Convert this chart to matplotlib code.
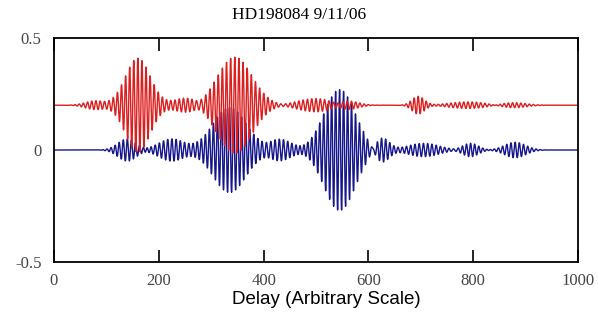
import numpy as np
import matplotlib
matplotlib.use("Agg")
import matplotlib.pyplot as plt

# wave packets: centre, amplitude, width (sigma), fringe period
red_offset = 0.2
red_centers = [80, 160, 255, 345, 500, 560, 695, 790, 875]
red_amps = [0.02, 0.21, 0.035, 0.215, 0.03, 0.02, 0.04, 0.015, 0.012]
red_widths = [20, 24, 25, 33, 35, 20, 12, 35, 25]
red_periods = [8.0, 7.8, 8.0, 7.9, 8.2, 8.0, 7.7, 8.1, 8.0]

blue_offset = 0.0
blue_centers = [140, 225, 335, 430, 545, 625, 705, 795, 880]
blue_amps = [0.05, 0.05, 0.19, 0.05, 0.27, 0.06, 0.03, 0.03, 0.035]
blue_widths = [18, 25, 32, 22, 30, 14, 30, 15, 20]
blue_periods = [7.8, 8.0, 7.7, 8.0, 7.6, 7.9, 8.1, 7.8, 8.0]

x_ticks = [0, 200, 400, 600, 800, 1000]
y_ticks = [-0.5, 0, 0.5]
y_tick_labels = ["-0.5", "0", "0.5"]

delay = np.linspace(0, 1000, 6000)


def fringes(centers, amps, widths, periods, offset):
    y = np.full_like(delay, offset)
    for c, a, w, p in zip(centers, amps, widths, periods):
        env = np.exp(-0.5 * ((delay - c) / w) ** 2)
        y += a * env * np.cos(2 * np.pi * (delay - c) / p)
    return y


red = fringes(red_centers, red_amps, red_widths, red_periods, red_offset)
blue = fringes(blue_centers, blue_amps, blue_widths, blue_periods, blue_offset)

fig = plt.figure(figsize=(5.98, 3.22), dpi=100)
ax = fig.add_axes([0.0903, 0.1863, 0.8763, 0.6957])

ax.plot(delay, blue, color="#16168c", lw=1.0)
ax.plot(delay, red, color="#dc1e1e", lw=1.0)

ax.set_xlim(0, 1000)
ax.set_ylim(-0.5, 0.5)
ax.set_xticks(x_ticks)
ax.set_yticks(y_ticks)
ax.set_yticklabels(y_tick_labels)
ax.tick_params(axis="x", direction="in", length=9, top=True, width=1.2, pad=8)
ax.tick_params(axis="y", direction="in", length=0, pad=9)
ax.tick_params(labelsize=12, labelcolor="#444444")
for lab in ax.get_xticklabels() + ax.get_yticklabels():
    lab.set_fontfamily("Liberation Serif")
for sp in ax.spines.values():
    sp.set_linewidth(1.3)

fig.text(0.5, 1 - 15 / 322, "HD198084 9/11/06", fontfamily="Liberation Serif",
         fontsize=12.5, ha="center", va="center")
fig.text(326 / 598, 1 - 300 / 322, "Delay (Arbitrary Scale)", fontfamily="Liberation Sans",
         fontsize=13.5, ha="center", va="center")

fig.savefig("out.png", dpi=100)
